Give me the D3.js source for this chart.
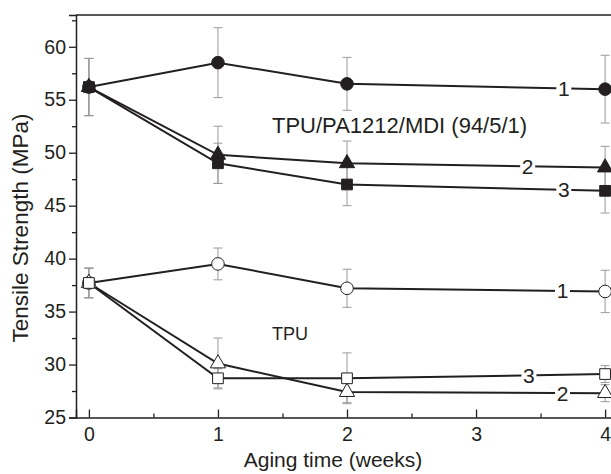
<!DOCTYPE html>
<meta charset="utf-8">
<script src="https://d3js.org/d3.v7.min.js"></script>
<style>
  body { margin: 0; background: #fff; }
  text { font-family: "Liberation Sans", Arial, sans-serif; fill: #231f20; }
</style>
<div id="chart"></div>
<script>
// data
var weeks = [0, 1, 2, 4];

var pa1 = [56.2, 58.5, 56.5, 56.0];
var pa1Err = [2.7, 3.3, 2.5, 3.2];
var pa2 = [56.2, 49.8, 49.0, 48.6];
var pa2Err = [2.7, 2.7, 2.1, 2.0];
var pa3 = [56.2, 49.0, 47.0, 46.4];
var pa3Err = [2.7, 1.9, 2.0, 2.1];

var tpu1 = [37.7, 39.5, 37.2, 36.9];
var tpu1Err = [1.4, 1.5, 1.8, 2.0];
var tpu2 = [37.7, 30.1, 27.4, 27.3];
var tpu2Err = [1.4, 2.4, 1.0, 0.8];
var tpu3 = [37.7, 28.7, 28.7, 29.1];
var tpu3Err = [1.4, 0.9, 2.4, 0.8];

var yTicks = [25, 30, 35, 40, 45, 50, 55, 60];
var xTicks = [0, 1, 2, 3, 4];

var series = [
  {vals: pa1, err: pa1Err, shape: "circle", fill: true, label: "1", at: 3.68},
  {vals: pa2, err: pa2Err, shape: "triangle", fill: true, label: "2", at: 3.40},
  {vals: pa3, err: pa3Err, shape: "square", fill: true, label: "3", at: 3.68},
  {vals: tpu1, err: tpu1Err, shape: "circle", fill: false, label: "1", at: 3.67},
  {vals: tpu2, err: tpu2Err, shape: "triangle", fill: false, label: "2", at: 3.67},
  {vals: tpu3, err: tpu3Err, shape: "square", fill: false, label: "3", at: 3.41}
];

var W = 611, H = 474;
var margin = {top: 15, left: 76};
var width = 542, height = 402.5;
var ink = "#231f20";

var svg = d3.select("#chart").append("svg")
    .attr("width", W).attr("height", H);
var g = svg.append("g")
    .attr("transform", "translate(" + margin.left + "," + margin.top + ")");

var x = d3.scaleLinear().domain([-0.1, 4.1]).range([0, width]);
var y = d3.scaleLinear().domain([25, 63]).range([height, 0]);

// y axis, ticks outward
var yAx = g.append("g")
  .call(d3.axisLeft(y).tickValues(yTicks).tickSize(7).tickPadding(3));
g.append("g")
  .call(d3.axisLeft(y).tickValues(d3.range(27.5, 63, 5)).tickSize(4).tickFormat(""))
  .select(".domain").remove();
yAx.selectAll("text").style("font-size", "19.5px");

// x axis, ticks inward
var xAx = g.append("g")
  .attr("transform", "translate(0," + height + ")")
  .call(d3.axisBottom(x).tickValues(xTicks).tickSize(-8).tickPadding(10).tickFormat(d3.format("d")));
g.append("g")
  .attr("transform", "translate(0," + height + ")")
  .call(d3.axisBottom(x).tickValues([0.5, 1.5, 2.5, 3.5]).tickSize(-4).tickFormat(""))
  .select(".domain").remove();
xAx.selectAll("text").style("font-size", "19.5px");

g.selectAll(".domain").attr("stroke", ink).attr("stroke-width", 1.5);
g.selectAll(".tick line").attr("stroke", ink).attr("stroke-width", 1.3);

// frame top and right
g.append("line").attr("x1", 0).attr("x2", width).attr("y1", 0).attr("y2", 0)
  .attr("stroke", ink).attr("stroke-width", 1.5);
g.append("line").attr("x1", width).attr("x2", width).attr("y1", 0).attr("y2", height)
  .attr("stroke", ink).attr("stroke-width", 1.5);

// axis titles
svg.append("text")
  .attr("x", 333).attr("y", 467)
  .attr("text-anchor", "middle")
  .style("font-size", "21px")
  .text("Aging time (weeks)");
svg.append("text")
  .attr("transform", "translate(28,228) rotate(-90)")
  .attr("text-anchor", "middle")
  .style("font-size", "22.5px")
  .text("Tensile Strength (MPa)");

// error bars
series.forEach(function(s) {
  var eb = g.append("g").attr("stroke", "#9a9a9a").attr("stroke-width", 1);
  weeks.forEach(function(w, i) {
    var cx = x(w), lo = y(s.vals[i] - s.err[i]), hi = y(s.vals[i] + s.err[i]);
    eb.append("line").attr("x1", cx).attr("x2", cx).attr("y1", lo).attr("y2", hi);
    eb.append("line").attr("x1", cx - 4.5).attr("x2", cx + 4.5).attr("y1", lo).attr("y2", lo);
    eb.append("line").attr("x1", cx - 4.5).attr("x2", cx + 4.5).attr("y1", hi).attr("y2", hi);
  });
});

// lines with a break for the number label
var line = d3.line().x(function(d) { return x(d[0]); }).y(function(d) { return y(d[1]); });
series.forEach(function(s) {
  var pts = weeks.map(function(w, i) { return [w, s.vals[i]]; });
  g.append("path").datum(pts)
    .attr("d", line)
    .attr("fill", "none")
    .attr("stroke", ink)
    .attr("stroke-width", 2);
  var ly = s.vals[2] + (s.vals[3] - s.vals[2]) * (s.at - 2) / 2;
  g.append("rect")
    .attr("x", x(s.at) - 7.5).attr("y", y(ly) - 6)
    .attr("width", 15).attr("height", 12)
    .attr("fill", "#fff");
  g.append("text")
    .attr("x", x(s.at)).attr("y", y(ly))
    .attr("dy", "0.36em")
    .attr("text-anchor", "middle")
    .style("font-size", "21px")
    .text(s.label);
});

// markers
var sym = {circle: d3.symbolCircle, triangle: d3.symbolTriangle, square: d3.symbolSquare};
var symSize = {circle: 125, triangle: 100, square: 115};
series.forEach(function(s) {
  g.selectAll(null).data(weeks).enter().append("path")
    .attr("transform", function(w, i) { return "translate(" + x(w) + "," + y(s.vals[i]) + ")"; })
    .attr("d", d3.symbol().type(sym[s.shape]).size(symSize[s.shape]))
    .attr("fill", s.fill ? ink : "#fff")
    .attr("stroke", ink)
    .attr("stroke-width", 1);
});

// annotations
svg.append("text")
  .attr("x", 272).attr("y", 133)
  .style("font-size", "22px")
  .text("TPU/PA1212/MDI (94/5/1)");
svg.append("text")
  .attr("x", 272).attr("y", 340)
  .style("font-size", "18px")
  .text("TPU");
</script>
